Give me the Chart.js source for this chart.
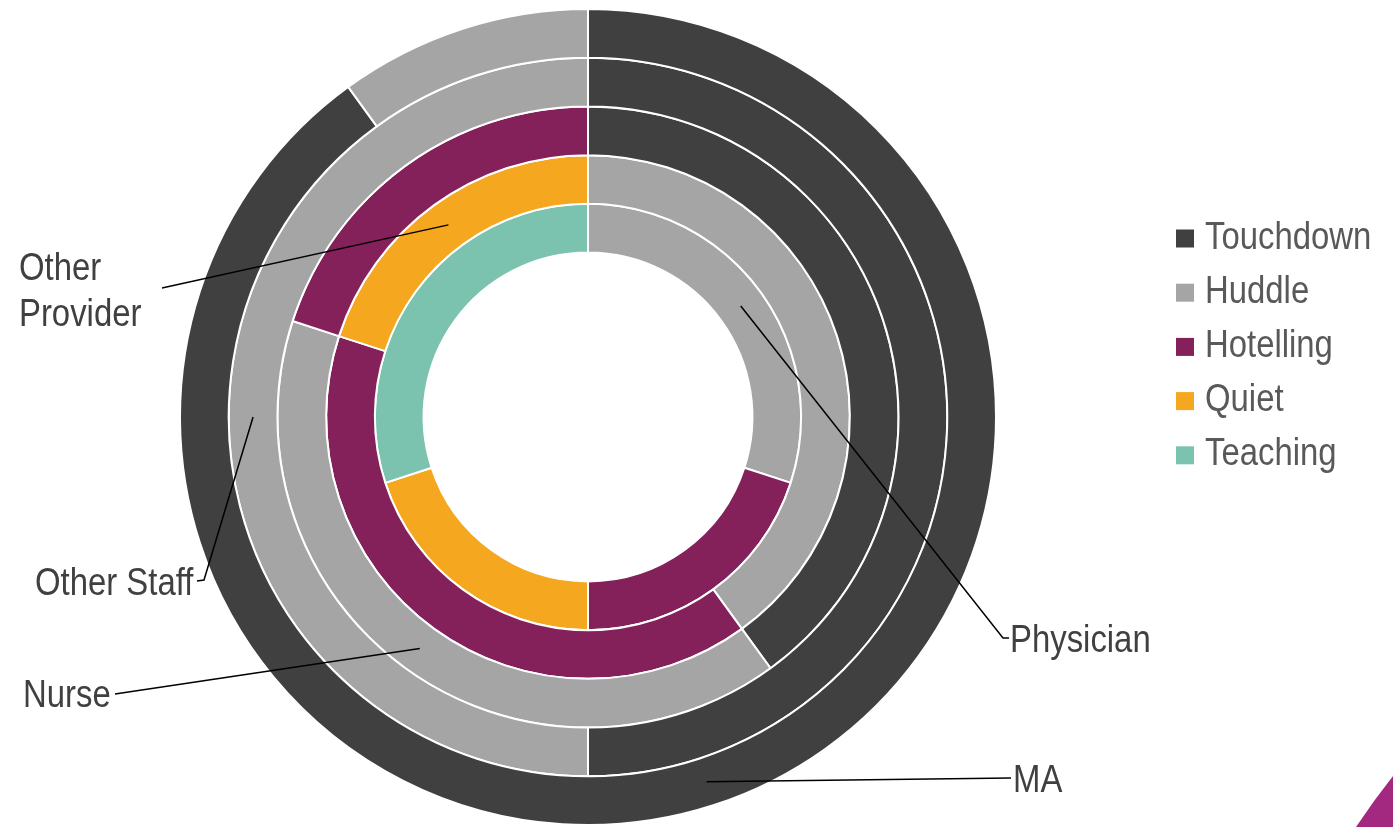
<!DOCTYPE html>
<html>
<head>
<meta charset="utf-8">
<script src="https://cdn.jsdelivr.net/npm/chart.js@4/dist/chart.umd.min.js"></script>
<style>
  html, body { margin: 0; padding: 0; background: #fff; }
</style>
</head>
<body>
<canvas id="chart" width="1393" height="827"></canvas>
<script>
// Categories (slices) and their colours
var categories = ['Touchdown', 'Huddle', 'Hotelling', 'Quiet', 'Teaching'];
var colors = ['#404040', '#a5a5a5', '#84205a', '#f4a71f', '#7bc3af'];

// Rings, outermost first
var rings = ['MA', 'Other Staff', 'Nurse', 'Other Provider', 'Physician'];
var maValues = [90, 10, 0, 0, 0];
var otherStaffValues = [50, 50, 0, 0, 0];
var nurseValues = [40, 40, 20, 0, 0];
var otherProviderValues = [0, 40, 40, 20, 0];
var physicianValues = [0, 30, 20, 20, 30];

var ringValues = [maValues, otherStaffValues, nurseValues, otherProviderValues, physicianValues];

var FONT = "'Liberation Sans', Arial, sans-serif";
var NARROW = 0.865; // squeeze text horizontally, the original uses a narrow face

// Callout layout: which slice of which ring the leader line points at,
// where the text sits and the bend points of the line
var callouts = [
  { ring: 0, slice: 0, lines: ['MA'], x: 1013, y: 792, path: [[1011, 778]] },
  { ring: 1, slice: 1, lines: ['Other Staff'], x: 35, y: 595, path: [[204, 580], [197, 581]] },
  { ring: 2, slice: 1, lines: ['Nurse'], x: 23, y: 707, path: [[115, 694]] },
  { ring: 3, slice: 3, lines: ['Other', 'Provider'], x: 19, y: 280, lineGap: 46, path: [[162, 288]] },
  { ring: 4, slice: 1, lines: ['Physician'], x: 1010, y: 652, path: [[1003, 638], [1009, 638]] }
];

function narrowText(ctx, text, x, y) {
  ctx.save();
  ctx.scale(NARROW, 1);
  ctx.fillText(text, x / NARROW, y);
  ctx.restore();
}

var calloutPlugin = {
  id: 'callouts',
  afterDraw: function(chart) {
    var ctx = chart.ctx;
    ctx.save();
    ctx.font = '38px ' + FONT;
    ctx.textAlign = 'left';
    ctx.textBaseline = 'alphabetic';
    callouts.forEach(function(c) {
      var arc = chart.getDatasetMeta(c.ring).data[c.slice];
      var p = arc.getCenterPoint();
      ctx.beginPath();
      ctx.moveTo(p.x, p.y);
      c.path.forEach(function(pt) { ctx.lineTo(pt[0], pt[1]); });
      ctx.strokeStyle = '#000';
      ctx.lineWidth = 1.5;
      ctx.stroke();
      ctx.fillStyle = '#404040';
      c.lines.forEach(function(t, i) {
        narrowText(ctx, t, c.x, c.y + i * (c.lineGap || 0));
      });
    });

    // legend
    categories.forEach(function(name, i) {
      var cy = 238.5 + i * 54.2;
      ctx.fillStyle = colors[i];
      ctx.fillRect(1176, cy - 9, 18, 18);
      ctx.fillStyle = '#595959';
      narrowText(ctx, name, 1205, cy + 10);
    });

    // slide corner decoration
    ctx.beginPath();
    ctx.moveTo(1356, 827);
    ctx.quadraticCurveTo(1374, 800, 1393, 776);
    ctx.lineTo(1393, 827);
    ctx.closePath();
    ctx.fillStyle = '#a3287f';
    ctx.fill();
    ctx.restore();
  }
};

var ctx = document.getElementById('chart').getContext('2d');
var chart = new Chart(ctx, {
  type: 'doughnut',
  data: {
    labels: categories,
    datasets: rings.map(function(name, i) {
      return {
        label: name,
        data: ringValues[i],
        backgroundColor: colors,
        borderColor: '#ffffff',
        borderWidth: 2
      };
    })
  },
  options: {
    responsive: false,
    animation: false,
    cutout: '40.3%',
    layout: {
      padding: { top: 8, bottom: 1, left: 0, right: 217 }
    },
    plugins: {
      legend: { display: false },
      tooltip: { enabled: false }
    }
  },
  plugins: [calloutPlugin]
});
</script>
</body>
</html>
